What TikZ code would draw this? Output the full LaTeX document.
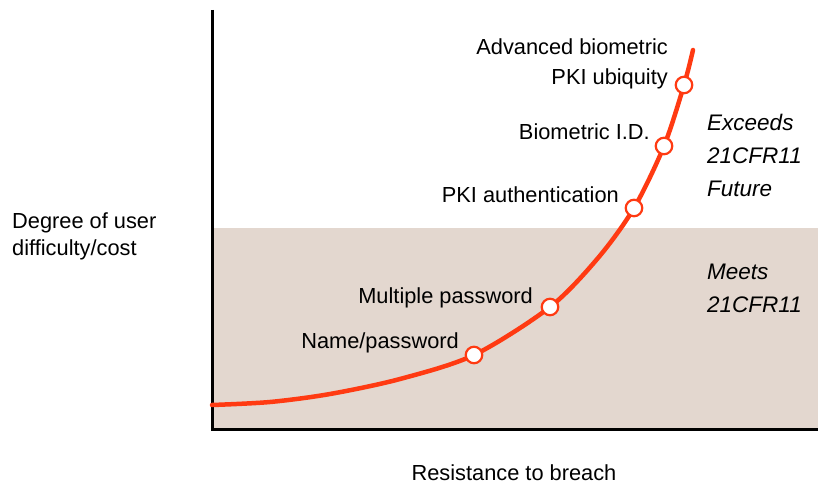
\documentclass[tikz,border=0pt]{standalone}
\usepackage{fontspec}
\setmainfont{Liberation Sans}
\definecolor{curvered}{HTML}{FF3A12}
\definecolor{zonefill}{HTML}{E3D7CF}
\begin{document}
\begin{tikzpicture}[x=1pt,y=-1pt,
  lbl/.style={inner sep=0pt, font=\fontsize{21.8}{25}\selectfont},
  zonelbl/.style={lbl, font=\fontsize{22.5}{25}\selectfont\itshape, anchor=base west},
  milestone/.style={circle, draw=curvered, fill=white, line width=2.2pt,
    minimum size=16.5pt, inner sep=0pt},
  axisline/.style={line width=3pt, black}]
\useasboundingbox (0,0) rectangle (818,487);

% compliance zone under the threshold
\fill[zonefill] (212,228) rectangle (818,429);

% axes
\coordinate (ytop) at (212,10);
\coordinate (origin) at (212,429);
\coordinate (xend) at (818,429);
\draw[axisline] (ytop) -- (origin) -- (xend);

% cost curve
\draw[curvered, line width=4.5pt, line cap=round]
  plot[smooth, tension=0.5] coordinates
  {(212,405) (270,402) (330,394) (400,379) (474,355) (550,307) (598,258)
   (634,208) (664,146) (684,85) (693,50)};

% milestones on the curve
\node[milestone] (m1) at (474,355) {};
\node[milestone] (m2) at (550,307) {};
\node[milestone] (m3) at (634,208) {};
\node[milestone] (m4) at (664,146) {};
\node[milestone] (m5) at (684,85) {};

% milestone labels
\node[lbl, anchor=base east] (l5a) at (668,54) {Advanced biometric};
\node[lbl, anchor=base east] (l5b) at (668,84) {PKI ubiquity};
\node[lbl, anchor=base east] (l4) at (650,139) {Biometric I.D.};
\node[lbl, anchor=base east] (l3) at (619,202) {PKI authentication};
\node[lbl, anchor=base east] (l2) at (533,303) {Multiple password};
\node[lbl, anchor=base east] (l1) at (459,348) {Name/password};

% zone labels
\node[zonelbl] (z1) at (707,130) {Exceeds};
\node[zonelbl] (z2) at (707,163) {21CFR11};
\node[zonelbl] (z3) at (707,196) {Future};
\node[zonelbl] (z4) at (707,279) {Meets};
\node[zonelbl] (z5) at (707,312) {21CFR11};

% axis titles
\node[lbl, anchor=base west] (ya) at (12,228) {Degree of user};
\node[lbl, anchor=base west] (yb) at (12,255) {difficulty/cost};
\node[lbl, anchor=base] (xa) at (514,480) {Resistance to breach};
\end{tikzpicture}
\end{document}
